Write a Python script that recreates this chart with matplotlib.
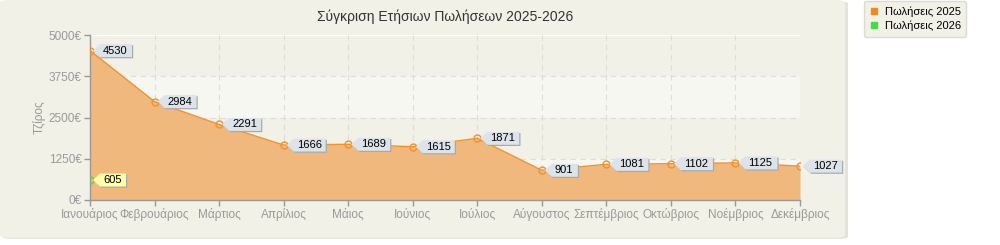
import matplotlib.pyplot as plt
import matplotlib.transforms as mtransforms
from matplotlib.patches import FancyBboxPatch, Rectangle, Polygon
from matplotlib.lines import Line2D

plt.rcParams['font.family'] = ['Liberation Sans', 'DejaVu Sans']

# Data
months = ['Ιανουάριος', 'Φεβρουάριος', 'Μάρτιος', 'Απρίλιος', 'Μάιος', 'Ιούνιος',
          'Ιούλιος', 'Αύγουστος', 'Σεπτέμβριος', 'Οκτώβριος', 'Νοέμβριος', 'Δεκέμβριος']
sales_2025 = [4530, 2984, 2291, 1666, 1689, 1615, 1871, 901, 1081, 1102, 1125, 1027]
sales_2026 = [605]
y_ticks = [0, 1250, 2500, 3750, 5000]
title = 'Σύγκριση Ετήσιων Πωλήσεων 2025-2026'

bg = '#f2f1e7'
light = '#f7f7f2'
fill_col = '#f0b87d'
line_col = '#f0922e'
green = '#44dd44'
grey = '#999999'

fig = plt.figure(figsize=(10, 2.45), dpi=100)
fig.patch.set_facecolor('white')

# Background panel
fig.patches.append(FancyBboxPatch((0.002, 0.025), 0.846, 0.97, boxstyle='round,pad=0,rounding_size=0.01',
                                  transform=fig.transFigure, facecolor='#e4e3da', edgecolor='none', zorder=-2))
fig.patches.append(FancyBboxPatch((0.0, 0.03), 0.845, 0.97, boxstyle='round,pad=0,rounding_size=0.01',
                                  transform=fig.transFigure, facecolor=bg, edgecolor='none', zorder=-1))

ax = fig.add_axes([0.09, 0.1837, 0.71, 0.673])
ax.set_facecolor(bg)
x = list(range(len(months)))

# Alternating bands
for lo in [0, 2500]:
    ax.add_patch(Rectangle((0, lo), len(months) - 1, 1250, facecolor=light, edgecolor='none', zorder=0))

for yv in y_ticks[1:-1]:
    ax.axhline(yv, color='#dddddd', lw=0.8, ls=(0, (5, 4)), zorder=1)
ax.axhline(5000, color='white', lw=1, zorder=1)
for xv in x[1:]:
    ax.axvline(xv, color='#dddddd', lw=0.8, ls=(0, (5, 4)), zorder=1)

ax.fill_between(x, 0, sales_2025, color=fill_col, lw=0, zorder=2)
ax.plot(x, sales_2025, color=line_col, lw=1, zorder=3)
ax.plot(x, sales_2025, 'o', ms=5, mfc='none', mec=line_col, mew=1, zorder=4)
ax.plot(x[:len(sales_2026)], sales_2026, 'o', ms=5, mfc='none', mec=green, mew=1, zorder=4)


def callout(xv, yv, text, fc):
    # tag-shaped label, sizes in pixels relative to the point
    w = 6 * len(text) + 8
    h = 6.5
    verts = [(3, 0), (10, h), (10 + w, h), (10 + w, -h), (10, -h)]
    px = [(a / 100, b / 100) for a, b in verts]
    sh = [(a / 100 + 0.012, b / 100 - 0.012) for a, b in verts]
    trans = fig.dpi_scale_trans + mtransforms.ScaledTranslation(xv, yv, ax.transData)
    ax.add_patch(Polygon(sh, closed=True, fc='#a3abb1', ec='none', transform=trans, zorder=5, clip_on=False))
    ax.add_patch(Polygon(px, closed=True, fc=fc, ec='none', transform=trans, zorder=6, clip_on=False))
    ax.annotate(text, (xv, yv), xytext=(13, 0), textcoords='offset pixels', ha='left', va='center',
                fontsize=8, color='black', zorder=7, annotation_clip=False)


for xv, yv in zip(x, sales_2025):
    callout(xv, yv, str(yv), '#dce3e9')
for xv, yv in zip(x, sales_2026):
    callout(xv, yv, str(yv), '#ffffaa')

ax.set_xlim(0, len(months) - 1)
ax.set_ylim(0, 5000)
ax.set_xticks(x)
ax.set_xticklabels(months, fontsize=8.5, color=grey)
ax.set_yticks(y_ticks)
ax.set_yticklabels([f'{v}€' for v in y_ticks], fontsize=8.5, color=grey)
ax.tick_params(axis='both', color=grey, length=4, width=1, pad=2)
for s in ['top', 'right']:
    ax.spines[s].set_visible(False)
for s in ['left', 'bottom']:
    ax.spines[s].set_color(grey)
    ax.spines[s].set_linewidth(1)
ax.set_ylabel('Τζίρος', fontsize=8.5, color=grey, labelpad=2)
ax.set_title(title, fontsize=10, color='#333333', pad=10)

# Legend
handles = [Line2D([], [], marker='s', ls='none', ms=5, color='#f08a1a'),
           Line2D([], [], marker='s', ls='none', ms=5, color=green)]
leg = fig.legend(handles, ['Πωλήσεις 2025', 'Πωλήσεις 2026'], loc='upper left',
                 bbox_to_anchor=(0.858, 1.02), fontsize=8, frameon=True, fancybox=True,
                 facecolor=bg, edgecolor='#dcdbd0', handlelength=0.8, handletextpad=0.6,
                 labelspacing=0.35, borderpad=0.5)
leg.get_frame().set_alpha(1)

fig.savefig('out.png', dpi=100, facecolor=fig.get_facecolor())
